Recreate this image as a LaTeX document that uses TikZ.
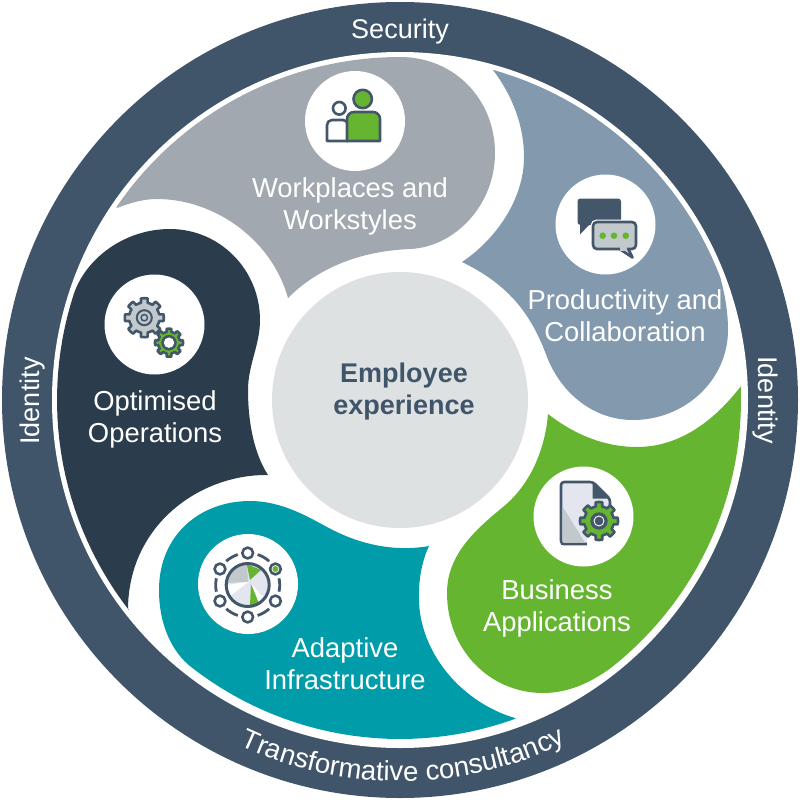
\documentclass[tikz,border=0pt]{standalone}
\usepackage{fontspec}
\usepackage{xcolor}
\setmainfont{Liberation Sans}
\usetikzlibrary{decorations.text}

\definecolor{ringblue}{HTML}{40556A}
\definecolor{workgrey}{HTML}{A1A8AF}
\definecolor{prodblue}{HTML}{8399AD}
\definecolor{opsdark}{HTML}{2B3C4C}
\definecolor{appgreen}{HTML}{66B531}
\definecolor{infrateal}{HTML}{009CAA}
\definecolor{coregrey}{HTML}{DEE1E2}
\definecolor{iconline}{HTML}{44566A}
\definecolor{iconpale}{HTML}{E3E6EF}
\definecolor{iconmid}{HTML}{C2C9CC}

% toothed wheel: x, y, outer radius, fill
\newcommand{\gearwheel}[4]{%
    \draw[iconstroke, fill=#4] plot[domain=0:360, samples=145]
        ({#1+#3*(0.78+0.22*min(1,max(0,3*cos(8*\x)+0.5)))*cos(\x)},
         {#2+#3*(0.78+0.22*min(1,max(0,3*cos(8*\x)+0.5)))*sin(\x)}) -- cycle;
}

\begin{document}
\begin{tikzpicture}[
        x=1pt, y=-1pt,
        iconback/.style={circle, fill=white, minimum size=100pt, inner sep=0pt},
        label/.style={text=white, align=center, font=\fontsize{27.4}{32}\selectfont, inner sep=0pt},
        ringlabel/.style={text=white, font=\fontsize{27}{30}\selectfont, inner sep=0pt},
        iconstroke/.style={draw=iconline, line width=2.6pt, line join=round}
    ]
        \useasboundingbox (0,0) rectangle (800,800);

        % Outer ring
        \fill[ringblue] (400,400) circle[radius=398];
        \fill[white] (400,400) circle[radius=348];

        % Petals
        \fill[workgrey] plot[domain=214.2:270, samples=30] ({400+343*cos(\x)},{400+343*sin(\x)})
            .. controls (455,57) and (495,100) .. (495,153)
            .. controls (495,205) and (455,247) .. (410,249)
            .. controls (360,251) and (318,268) .. (288,298)
            .. controls (272,240) and (215,199) .. (157,199)
            .. controls (143,199) and (130,203) .. (117,208) -- cycle;
        \fill[prodblue] plot[domain=285.7:339, samples=30] ({400+343*cos(\x)},{400+343*sin(\x)})
            .. controls (725,295) and (728,312) .. (728,330)
            .. controls (728,380) and (685,420) .. (633,420)
            .. controls (595,420) and (562,395) .. (547,357)
            .. controls (530,310) and (505,283) .. (462,262)
            .. controls (495,240) and (524,200) .. (524,157)
            .. controls (524,125) and (512,95) .. (493,70) -- cycle;
        \fill[appgreen] plot[domain=-2.4:51.8, samples=30] ({400+341*cos(\x)},{400+341*sin(\x)})
            .. controls (590,683) and (568,693) .. (543,693)
            .. controls (490,693) and (447,650) .. (447,593)
            .. controls (447,555) and (475,530) .. (503,507)
            .. controls (530,485) and (545,450) .. (548,414)
            .. controls (575,435) and (605,447) .. (637,447)
            .. controls (680,447) and (715,420) .. (741,386) -- cycle;
        \fill[infrateal] plot[domain=70.1:128, samples=30] ({400+339*cos(\x)},{400+339*sin(\x)})
            .. controls (172,652) and (159,625) .. (159,590)
            .. controls (159,535) and (200,501) .. (250,501)
            .. controls (280,501) and (305,515) .. (327,527)
            .. controls (360,545) and (395,552) .. (429,546)
            .. controls (420,565) and (417,590) .. (420,613)
            .. controls (428,665) and (470,705) .. (515,718) -- cycle;
        \fill[opsdark] plot[domain=142.3:198, samples=30] ({400+343*cos(\x)},{400+343*sin(\x)})
            .. controls (86,258) and (125,229) .. (170,229)
            .. controls (220,229) and (260,270) .. (260,320)
            .. controls (260,345) and (248,365) .. (248,390)
            .. controls (248,425) and (255,455) .. (268,475)
            .. controls (200,474) and (128,525) .. (128,610) -- cycle;

        % Centre
        \node[circle, fill=coregrey, minimum size=256pt, inner sep=0pt] (core) at (400,400) {};
        \node[text=ringblue, align=center, inner sep=0pt, font=\fontsize{27}{32}\selectfont\bfseries] (corelabel) at (404,392) {Employee\\experience};

        % Ring labels
        \node[ringlabel] (security) at (400,32) {Security};
        \node[ringlabel, rotate=90] (identityleft) at (33,401) {Identity};
        \node[ringlabel, rotate=-90] (identityright) at (765,400) {Identity};
        \path[decorate, decoration={text along path, text align=center,
              text={|\color{white}\fontsize{27.6}{30}\selectfont|Transformative consultancy}}]
            plot[domain=119.5:59.5, samples=60] ({400+381*cos(\x)},{400+381*sin(\x)});

        % Petal labels
        \node[label] (worklabel) at (350,206.5) {Workplaces and\\Workstyles};
        \node[label] (prodlabel) at (625,315.5) {Productivity and\\Collaboration};
        \node[label] (opslabel) at (155,419.5) {Optimised\\Operations};
        \node[label] (infralabel) at (345,663.5) {Adaptive\\Infrastructure};
        \node[label] (applabel) at (557,608.5) {Business\\Applications};

        % Icon backgrounds
        \node[iconback] (workicon) at (355,121) {};
        \node[iconback] (prodicon) at (605.5,224.5) {};
        \node[iconback] (opsicon) at (154.5,324.5) {};
        \node[iconback] (infraicon) at (248,584) {};
        \node[iconback] (appicon) at (583.5,516.5) {};

        % People
        \draw[iconstroke, fill=white] (339.3,108.3) circle[radius=6.3];
        \draw[iconstroke, fill=white] (348,141) -- (327,141) [rounded corners=5pt] -- (327,120) -- (348,120) [sharp corners] -- cycle;
        \draw[iconstroke, fill=appgreen] (362.7,99) circle[radius=9.2];
        \draw[iconstroke, fill=appgreen] (347,141) [rounded corners=7pt] -- (347,112) -- (380,112) [sharp corners] -- (380,141) -- cycle;

        % Speech bubbles
        \fill[iconline, rounded corners=3pt] (577.5,198.5) rectangle (621,225);
        \fill[iconline] (580,222) -- (580,234.5) -- (589,225) -- cycle;
        \draw[draw=white, line width=5pt, rounded corners=4pt] (593,222) rectangle (636,249);
        \draw[iconstroke, fill=iconmid] (618,248) -- (632.5,257.5) -- (628,248) -- cycle;
        \draw[iconstroke, fill=iconmid, rounded corners=4pt] (593,222) rectangle (636,249);
        \fill[iconmid] (619.5,247) rectangle (627,251);
        \foreach \dotx in {602.7,614,625.7}
            \fill[appgreen] (\dotx,235.7) circle[radius=3.3];

        % Gears
        \gearwheel{144.3}{317.7}{19.5}{iconmid}
        \draw[iconline, line width=2pt] (144.3,317.7) circle[radius=7.5];
        \draw[iconline, line width=1.5pt] (144.3,317.7) circle[radius=3.2];
        \gearwheel{169}{342.7}{14}{appgreen}
        \fill[iconline] (169,342.7) circle[radius=7.8];
        \fill[white] (169,342.7) circle[radius=5.2];

        % Infrastructure wheel
        \foreach \ang in {30,90,...,330}
            \draw[iconline, line width=2.8pt]
                plot[domain=\ang+18:\ang+42, samples=8] ({247.7+32*cos(\x)},{585+32*sin(\x)});
        \foreach \ang in {-90,-30,30,90,150,210}
            \draw[iconstroke, fill=white] ({247.7+32*cos(\ang)},{585+32*sin(\ang)}) circle[radius=5.4];
        \fill[appgreen] ({247.7+32*cos(-30)},{585+32*sin(-30)}) circle[radius=3];
        \fill[iconpale] (247.7,585) circle[radius=21];
        \fill[iconmid] (248.3,581.7) -- (246.7,564) -- (230,570) -- (227,583) -- cycle;
        \fill[white] (248.3,582) -- (227,585) -- (230,596) -- cycle;
        \fill[appgreen] (250,580) -- (246.7,564) -- (261,570) -- cycle;
        \fill[appgreen] (251,583.3) -- (250,606) -- (259,603) -- cycle;
        \fill[white] (251,583.3) -- (259,603) -- (263,597) -- cycle;
        \draw[iconstroke, line width=3pt] (247.7,585) circle[radius=21.5];

        % Document with gear
        \draw[iconstroke, fill=iconpale, rounded corners=3pt] (610,530) -- (610,499) -- (593,482) -- (561,482) -- (561,544) -- (610,544) -- cycle;
        \fill[iconmid] (562.5,506.5) -- (585,542.5) -- (562.5,542.5) -- cycle;
        \fill[iconline] (592.5,483) -- (592.5,498.5) -- (608.5,498.5) -- cycle;
        \fill[white] (587,535) rectangle (613,550);
        \draw[iconline, line width=2.6pt] (583,544) -- (561,544);
        \gearwheel{599}{521}{19}{appgreen}
        \fill[iconline] (599,521) circle[radius=8.7];
        \draw[white, line width=.9pt] (599,521) circle[radius=5];
    \end{tikzpicture}
\end{document}
